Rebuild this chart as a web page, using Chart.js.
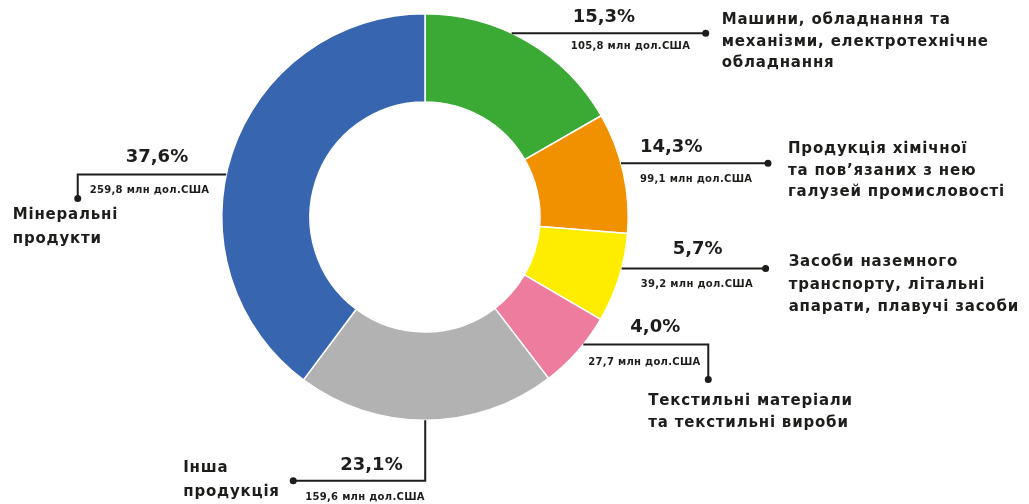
<!DOCTYPE html>
<html>
<head>
<meta charset="utf-8">
<script src="https://cdn.jsdelivr.net/npm/chart.js@4.4.1/dist/chart.umd.min.js"></script>
<style>
    html, body { margin: 0; padding: 0; background: #fff; }
    canvas { display: block; }
</style>
</head>
<body>
<canvas id="export-chart" width="1029" height="504"></canvas>
<script>
const categories = [
    ['Машини, обладнання та', 'механізми, електротехнічне', 'обладнання'],
    ['Продукція хімічної', 'та пов’язаних з нею', 'галузей промисловості'],
    ['Засоби наземного', 'транспорту, літальні', 'апарати, плавучі засоби'],
    ['Текстильні матеріали', 'та текстильні вироби'],
    ['Інша', 'продукція'],
    ['Мінеральні', 'продукти']
];
const sharePercent = [15.3, 14.3, 5.7, 4.0, 23.1, 37.6];
const valueMlnUsd = [105.8, 99.1, 39.2, 27.7, 159.6, 259.8];
// the infographic does not draw its arcs to scale, these are the shares as drawn
const arcShare = [16.7, 9.6, 7.1, 6.2, 20.6, 39.8];
const sliceColors = ['#3aaa35', '#f29100', '#ffed00', '#ee7c9f', '#b2b2b2', '#3865af'];

// callout layout: t = where on the arc the leader starts (0..1 of the slice),
// other offsets are in px from that start point
const callouts = [
    { t: .42, path: [[194, 0]], pct: [61, -16], val: [59, 13], cat: [210, -13], lh: 21.5 },
    { t: .42, path: [[147, 0]], pct: [19, -16], val: [19, 16], cat: [167, -14], lh: 21.5 },
    { t: .39, path: [[144, 0]], pct: [51, -19], val: [19, 16], cat: [167, -6], lh: 22.5 },
    { t: .386, path: [[125, 0], [125, 35]], pct: [47, -17], val: [5, 18], cat: [65, 57], lh: 22 },
    { t: .504, path: [[0, 60.5], [-132, 60.5]], pct: [-85, 45.5], val: [-120, 77.5], cat: [-242, 47.5], lh: 24 },
    { t: .456, path: [[-148.5, 0], [-148.5, 24]], pct: [-100.5, -17], val: [-136.5, 16], cat: [-213.5, 41], lh: 24 }
];

const ink = '#1d1d1b';
const fontFamily = '"DejaVu Sans", sans-serif';

function fmt(n) {
    return n.toFixed(1).replace('.', ',');
}

const calloutPlugin = {
    id: 'callouts',
    afterDatasetsDraw(chart) {
        const ctx = chart.ctx;
        const arcs = chart.getDatasetMeta(0).data;
        ctx.save();
        ctx.strokeStyle = ink;
        ctx.fillStyle = ink;
        ctx.lineWidth = 2;
        ctx.textAlign = 'left';
        ctx.textBaseline = 'middle';
        arcs.forEach(function (arc, i) {
            const c = callouts[i];
            const p = arc.getProps(['x', 'y', 'startAngle', 'endAngle', 'outerRadius'], true);
            const a = p.startAngle + c.t * (p.endAngle - p.startAngle);
            const ax = p.x + p.outerRadius * Math.cos(a);
            const ay = p.y + p.outerRadius * Math.sin(a);

            ctx.beginPath();
            ctx.moveTo(ax, ay);
            c.path.forEach(function (pt) {
                ctx.lineTo(ax + pt[0], ay + pt[1]);
            });
            ctx.stroke();
            const end = c.path[c.path.length - 1];
            ctx.beginPath();
            ctx.arc(ax + end[0], ay + end[1], 3.5, 0, Math.PI * 2);
            ctx.fill();

            ctx.letterSpacing = '0px';
            ctx.font = 'bold 18px ' + fontFamily;
            ctx.fillText(fmt(sharePercent[i]) + '%', ax + c.pct[0], ay + c.pct[1]);
            ctx.letterSpacing = '0.3px';
            ctx.font = 'bold 10px ' + fontFamily;
            ctx.fillText(fmt(valueMlnUsd[i]) + ' млн дол.США', ax + c.val[0], ay + c.val[1]);
            ctx.letterSpacing = '0.8px';
            ctx.font = 'bold 15px ' + fontFamily;
            categories[i].forEach(function (line, j) {
                ctx.fillText(line, ax + c.cat[0], ay + c.cat[1] + j * c.lh);
            });
        });
        ctx.restore();
    }
};

new Chart(document.getElementById('export-chart'), {
    type: 'doughnut',
    data: {
        labels: categories.map(function (l) { return l.join(' '); }),
        datasets: [{
            data: arcShare,
            backgroundColor: sliceColors,
            borderColor: '#ffffff',
            borderWidth: 1.5
        }]
    },
    options: {
        responsive: false,
        animation: false,
        cutout: '56.6%',
        layout: {
            padding: { left: 221, right: 400, top: 13, bottom: 83 }
        },
        plugins: {
            legend: { display: false },
            tooltip: { enabled: false }
        }
    },
    plugins: [calloutPlugin]
});
</script>
</body>
</html>
